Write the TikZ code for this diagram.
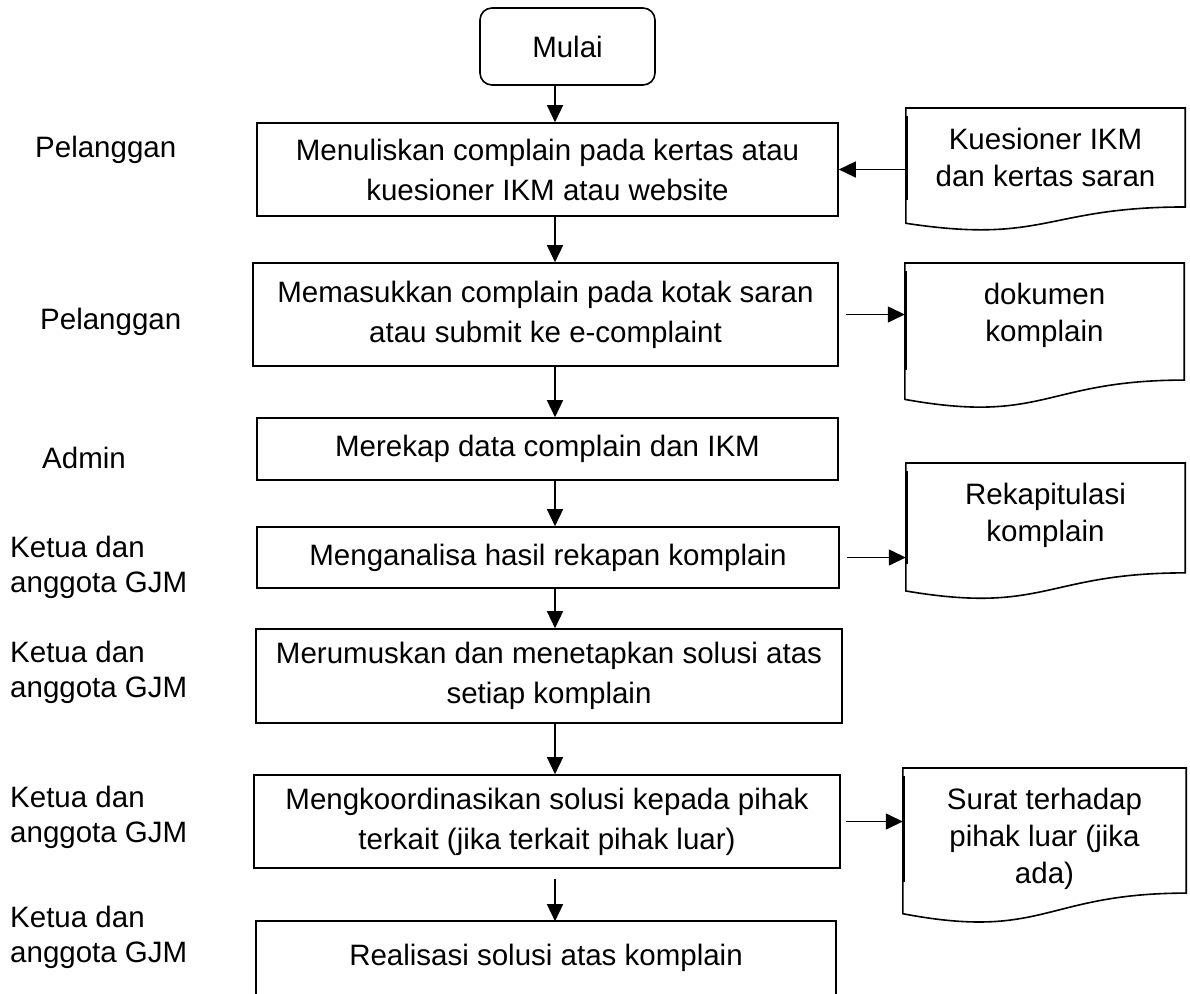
\documentclass[tikz,border=0pt]{standalone}
\usepackage{fontspec}
\setmainfont{Liberation Sans}
\usetikzlibrary{arrows.meta,calc,positioning}
\definecolor{ink}{HTML}{000000}
\tikzset{
  >={Triangle[length=17pt,width=16pt]},
  box/.style={draw=ink, rectangle, align=center, inner sep=0pt, line width=1.6pt,
    font=\fontsize{29.5}{40}\selectfont, text=ink},
  startbox/.style={box, rounded corners=12pt},
  openbox/.style={box, draw=none},
  docbox/.style={rectangle, align=center, inner xsep=0pt, inner ysep=20pt, anchor=north,
    font=\fontsize{29.5}{37}\selectfont, text=ink, minimum width=279pt},
  line/.style={draw=ink, line width=1.6pt},
  arr/.style={->, draw=ink, line width=1.4pt},
  lbl/.style={anchor=west, align=left, inner sep=0pt, text=ink,
    font=\fontsize{29.5}{35}\selectfont},
}
% document outline below a docbox: name, full height
\newcommand\docshape[2]{%
  \draw[line] (#1.north west) -- (#1.north east) -- ++(0,0.802*#2)
    .. controls ($(#1.north)+(0,0.802*#2)$) and ($(#1.north)+(0,1.107*#2)$)
    .. ($(#1.north west)+(0,0.934*#2)$) -- cycle;
  \draw[ink, line width=3pt] ($(#1.north west)+(0.8,8)$) -- ++(0,0.68*#2);}

\begin{document}
\begin{tikzpicture}[x=1pt, y=-1pt]
  \useasboundingbox (0,0) rectangle (1190,993);
  \coordinate (spine) at (555,0);
  % main flow
  \node[startbox, minimum width=175pt, minimum height=77pt] (start) at (567.5,46.5) {Mulai};
  \node[box, minimum width=581pt, minimum height=93pt] (b1) at (547.5,169.5)
    {Menuliskan complain pada kertas atau\\kuesioner IKM atau website};
  \node[box, minimum width=585pt, minimum height=103pt] (b2) at (545.5,314.5)
    {Memasukkan complain pada kotak saran\\atau submit ke e-complaint};
  \node[box, minimum width=581pt, minimum height=62pt] (b3) at (547.5,449)
    {Merekap data complain dan IKM};
  \node[box, minimum width=582pt, minimum height=61pt] (b4) at (548,557.5)
    {Menganalisa hasil rekapan komplain};
  \node[box, minimum width=586pt, minimum height=94pt] (b5) at (549,676)
    {Merumuskan dan menetapkan solusi atas\\setiap komplain};
  \node[box, minimum width=586pt, minimum height=93pt] (b6) at (547,821.5)
    {Mengkoordinasikan solusi kepada pihak\\terkait (jika terkait pihak luar)};
  \node[openbox, minimum width=578pt, minimum height=72pt] (b7) at (546,958)
    {Realisasi solusi atas komplain};
  \draw[line] (b7.south west) -- (b7.north west) -- (b7.north east) -- (b7.south east);

  % documents
  \node[docbox] (d1) at (1045.5,108) {Kuesioner IKM\\dan kertas saran};
  \node[docbox] (d2) at (1044.5,263) {dokumen\\komplain};
  \node[docbox] (d3) at (1045.5,463) {Rekapitulasi\\komplain};
  \node[docbox, minimum width=283pt] (d4) at (1044.5,768) {Surat terhadap\\pihak luar (jika\\ada)};
  \docshape{d1}{123.4}
  \docshape{d2}{146}
  \docshape{d3}{137}
  \docshape{d4}{156}

  % connectors
  \draw[arr] (start.south -| spine) -- (b1.north -| spine);
  \foreach \a/\b in {b1/b2,b2/b3,b3/b4,b4/b5,b5/b6}
    \draw[arr] (\a.south -| spine) -- (\b.north -| spine);
  \draw[arr, shorten <=10pt] (b6.south -| spine) -- (b7.north -| spine);
  \draw[arr] (d1.north west |- b1.east) -- (b1.east);
  \draw[arr, shorten <=7pt] (b2.east) -- (b2.east -| d2.north west);
  \draw[arr, shorten <=7pt] (b4.east) -- (b4.east -| d3.north west);
  \draw[arr, shorten <=5pt] (b6.east) -- (b6.east -| d4.north west);

  % actors
  \node[lbl] (l1) at (35,150) {Pelanggan};
  \node[lbl] (l2) at (40,322) {Pelanggan};
  \node[lbl] (l3) at (42,458) {Admin};
  \node[lbl] (l4) at (10,567) {Ketua dan\\anggota GJM};
  \node[lbl] (l5) at (10,672) {Ketua dan\\anggota GJM};
  \node[lbl] (l6) at (10,817) {Ketua dan\\anggota GJM};
  \node[lbl] (l7) at (10,937) {Ketua dan\\anggota GJM};
\end{tikzpicture}
\end{document}
